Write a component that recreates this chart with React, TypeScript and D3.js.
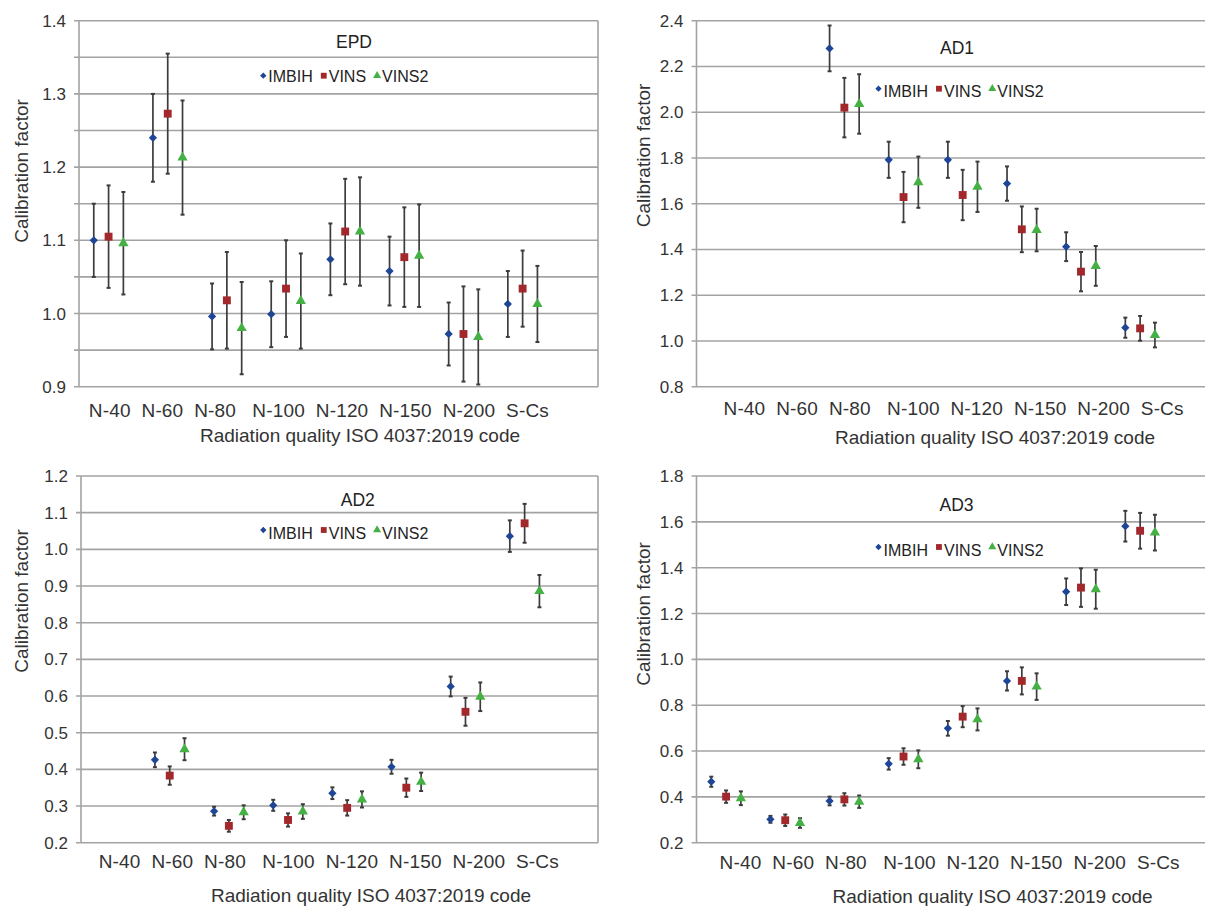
import React, { useEffect, useRef } from 'react';
import * as d3 from 'd3';

const categories = ['N-40', 'N-60', 'N-80', 'N-100', 'N-120', 'N-150', 'N-200', 'S-Cs'];
const seriesNames = ['IMBIH', 'VINS', 'VINS2'];

// EPD
const epdImbih = [1.100, 1.240, 0.996, 0.999, 1.074, 1.058, 0.972, 1.013];
const epdImbihErr = [0.050, 0.060, 0.045, 0.045, 0.049, 0.047, 0.043, 0.045];
const epdVins = [1.105, 1.273, 1.018, 1.034, 1.112, 1.077, 0.972, 1.034];
const epdVinsErr = [0.070, 0.082, 0.066, 0.066, 0.072, 0.068, 0.065, 0.052];
const epdVins2 = [1.096, 1.213, 0.980, 1.017, 1.112, 1.079, 0.968, 1.013];
const epdVins2Err = [0.070, 0.078, 0.063, 0.065, 0.074, 0.070, 0.065, 0.052];

// AD1
const ad1Imbih = [null, null, 2.279, 1.792, 1.792, 1.688, 1.412, 1.058];
const ad1ImbihErr = [null, null, 0.100, 0.079, 0.079, 0.075, 0.063, 0.044];
const ad1Vins = [null, null, 2.020, 1.629, 1.638, 1.488, 1.303, 1.055];
const ad1VinsErr = [null, null, 0.130, 0.110, 0.110, 0.100, 0.086, 0.054];
const ad1Vins2 = [null, null, 2.036, 1.694, 1.674, 1.485, 1.328, 1.026];
const ad1Vins2Err = [null, null, 0.130, 0.112, 0.110, 0.093, 0.087, 0.054];

// AD2
const ad2Imbih = [null, 0.426, 0.286, 0.302, 0.335, 0.407, 0.626, 1.036];
const ad2ImbihErr = [null, 0.020, 0.012, 0.015, 0.016, 0.019, 0.027, 0.043];
const ad2Vins = [null, 0.383, 0.246, 0.262, 0.295, 0.350, 0.557, 1.071];
const ad2VinsErr = [null, 0.025, 0.016, 0.018, 0.021, 0.025, 0.038, 0.053];
const ad2Vins2 = [null, 0.455, 0.283, 0.285, 0.318, 0.366, 0.598, 0.886];
const ad2Vins2Err = [null, 0.030, 0.019, 0.020, 0.022, 0.025, 0.039, 0.044];

// AD3
const ad3Imbih = [0.466, 0.302, 0.382, 0.544, 0.699, 0.906, 1.295, 1.581];
const ad3ImbihErr = [0.022, 0.015, 0.019, 0.025, 0.032, 0.042, 0.058, 0.067];
const ad3Vins = [0.401, 0.298, 0.389, 0.576, 0.750, 0.906, 1.313, 1.561];
const ad3VinsErr = [0.027, 0.025, 0.027, 0.036, 0.046, 0.059, 0.084, 0.078];
const ad3Vins2 = [0.394, 0.286, 0.379, 0.564, 0.738, 0.881, 1.306, 1.553];
const ad3Vins2Err = [0.030, 0.021, 0.027, 0.039, 0.048, 0.058, 0.085, 0.078];

const colors = ['#1f4596', '#a2282c', '#45b043'];
const symbols = [d3.symbolSquare, d3.symbolSquare, d3.symbolTriangle];
const rotations = [45, 0, 0];
const FONT = '"Liberation Sans", Arial, Helvetica, sans-serif';

const panels = [
    {
        name: 'EPD', domain: [0.9, 1.4], grid: 0.05, tick: 0.1,
        values: [[epdImbih, epdImbihErr], [epdVins, epdVinsErr], [epdVins2, epdVins2Err]],
        left: 79, right: 598, top: 20.7, bottom: 386.7,
        labelX: 88.8, labelY: 416.5, xTitleX: 360, xTitleY: 442, yTitleX: 28, yTitleY: 171,
        titleX: 354, titleY: 48.3, legendX: 263.3, legendY: 81.7, legendLift: 6
    },
    {
        name: 'AD1', domain: [0.8, 2.4], grid: 0.2, tick: 0.2,
        values: [[ad1Imbih, ad1ImbihErr], [ad1Vins, ad1VinsErr], [ad1Vins2, ad1Vins2Err]],
        left: 696.5, right: 1205, top: 20.7, bottom: 386.7,
        labelX: 723.5, labelY: 414.5, xTitleX: 995, xTitleY: 443.5, yTitleX: 649.5, yTitleY: 155.5,
        titleX: 957, titleY: 54, legendX: 878.5, legendY: 96.7, legendLift: 8
    },
    {
        name: 'AD2', domain: [0.2, 1.2], grid: 0.1, tick: 0.1,
        values: [[ad2Imbih, ad2ImbihErr], [ad2Vins, ad2VinsErr], [ad2Vins2, ad2Vins2Err]],
        left: 81, right: 598, top: 476, bottom: 842.7,
        labelX: 98.7, labelY: 868, xTitleX: 371, xTitleY: 902, yTitleX: 28, yTitleY: 601,
        titleX: 357.8, titleY: 506, legendX: 263.3, legendY: 539, legendLift: 9
    },
    {
        name: 'AD3', domain: [0.2, 1.8], grid: 0.2, tick: 0.2,
        values: [[ad3Imbih, ad3ImbihErr], [ad3Vins, ad3VinsErr], [ad3Vins2, ad3Vins2Err]],
        left: 696.5, right: 1205, top: 476, bottom: 842.7,
        labelX: 719.6, labelY: 869, xTitleX: 992.6, xTitleY: 903, yTitleX: 649.5, yTitleY: 614,
        titleX: 956.5, titleY: 510.7, legendX: 878.5, legendY: 556, legendLift: 9
    }
];

const BAND = 59.15;

export default function App() {
    const ref = useRef<SVGSVGElement>(null);

    useEffect(() => {
        const svg = d3.select(ref.current);
        svg.selectAll('*').remove();

        panels.forEach(p => {
            const g = svg.append('g');

            const x = d3.scaleBand()
                .domain(categories)
                .range([p.left, p.left + BAND * categories.length])
                .paddingInner(0);
            const off = d3.scalePoint()
                .domain(seriesNames)
                .range([-14.8, 14.8]);
            const y = d3.scaleLinear().domain(p.domain).range([p.bottom, p.top]);

            // gridlines
            const n = Math.round((p.domain[1] - p.domain[0]) / p.grid);
            const gridVals = d3.range(n + 1).map(i => +(p.domain[0] + i * p.grid).toFixed(3));
            g.selectAll('line.grid')
                .data(gridVals)
                .enter()
                .append('line')
                .attr('x1', p.left - 5)
                .attr('x2', p.right)
                .attr('y1', d => y(d))
                .attr('y2', d => y(d))
                .attr('stroke', '#a3a3a3')
                .attr('stroke-width', 1.6);

            // plot borders
            g.append('line')
                .attr('x1', p.left).attr('x2', p.left)
                .attr('y1', p.top).attr('y2', p.bottom)
                .attr('stroke', '#a3a3a3').attr('stroke-width', 1.6);
            if (p.right < 1205) {
                g.append('line')
                    .attr('x1', p.right).attr('x2', p.right)
                    .attr('y1', p.top).attr('y2', p.bottom)
                    .attr('stroke', '#a3a3a3').attr('stroke-width', 1.6);
            }

            // y tick labels
            const m = Math.round((p.domain[1] - p.domain[0]) / p.tick);
            const tickVals = d3.range(m + 1).map(i => +(p.domain[0] + i * p.tick).toFixed(3));
            g.selectAll('text.ytick')
                .data(tickVals)
                .enter()
                .append('text')
                .attr('x', p.left - 13)
                .attr('y', d => y(d) + 6)
                .attr('text-anchor', 'end')
                .attr('font-family', FONT)
                .attr('font-size', 17)
                .attr('fill', '#333')
                .text(d => d3.format('.1f')(d));

            // x labels (one text line, as in the source figure)
            const sep = '\u00A0\u00A0';
            const labelLine = categories.slice(0, 3).join(sep) + sep + '\u00A0' + categories.slice(3).join(sep);
            g.append('text')
                .attr('x', p.labelX)
                .attr('y', p.labelY)
                .attr('font-family', FONT)
                .attr('font-size', 19)
                .attr('fill', '#333')
                .attr('textLength', 460)
                .attr('lengthAdjust', 'spacing')
                .text(labelLine);

            // axis titles
            g.append('text')
                .attr('x', p.xTitleX)
                .attr('y', p.xTitleY)
                .attr('text-anchor', 'middle')
                .attr('font-family', FONT)
                .attr('font-size', 19)
                .attr('fill', '#333')
                .text('Radiation quality ISO 4037:2019 code');
            g.append('text')
                .attr('transform', `translate(${p.yTitleX},${p.yTitleY}) rotate(-90)`)
                .attr('text-anchor', 'middle')
                .attr('font-family', FONT)
                .attr('font-size', 19)
                .attr('fill', '#333')
                .text('Calibration factor');

            // panel title
            g.append('text')
                .attr('x', p.titleX)
                .attr('y', p.titleY)
                .attr('text-anchor', 'middle')
                .attr('font-family', FONT)
                .attr('font-size', 17.5)
                .attr('fill', '#222')
                .text(p.name);

            // error bars and markers
            seriesNames.forEach((s, si) => {
                const [vals, errs] = p.values[si];
                const pts = categories
                    .map((c, i) => ({ c, v: vals[i], e: errs[i] }))
                    .filter(d => d.v !== null);
                const cx = (d: any) => (x(d.c) as number) + x.bandwidth() / 2 + (off(s) as number);

                g.selectAll(`line.err${si}`)
                    .data(pts)
                    .enter()
                    .append('line')
                    .attr('x1', cx).attr('x2', cx)
                    .attr('y1', (d: any) => y(d.v + d.e))
                    .attr('y2', (d: any) => y(d.v - d.e))
                    .attr('stroke', '#3c3c3c')
                    .attr('stroke-width', 1.7);
                [1, -1].forEach(sign => {
                    g.selectAll(`line.cap${si}${sign}`)
                        .data(pts)
                        .enter()
                        .append('line')
                        .attr('x1', (d: any) => cx(d) - 2)
                        .attr('x2', (d: any) => cx(d) + 2)
                        .attr('y1', (d: any) => y(d.v + sign * d.e))
                        .attr('y2', (d: any) => y(d.v + sign * d.e))
                        .attr('stroke', '#3c3c3c')
                        .attr('stroke-width', 2);
                });

                const sizes = [34, 62, 46];
                g.selectAll(`path.pt${si}`)
                    .data(pts)
                    .enter()
                    .append('path')
                    .attr('d', d3.symbol().type(symbols[si]).size(sizes[si]))
                    .attr('transform', (d: any) => `translate(${cx(d)},${y(d.v)}) rotate(${rotations[si]})`)
                    .attr('fill', colors[si]);
            });

            // legend
            let lx = p.legendX;
            seriesNames.forEach((s, si) => {
                g.append('path')
                    .attr('d', d3.symbol().type(symbols[si]).size(si === 1 ? 34 : si === 0 ? 20 : 28))
                    .attr('transform', `translate(${lx},${p.legendY - p.legendLift}) rotate(${rotations[si]})`)
                    .attr('fill', colors[si]);
                const t = g.append('text')
                    .attr('x', lx + 5)
                    .attr('y', p.legendY)
                    .attr('font-family', FONT)
                    .attr('font-size', 16)
                    .attr('fill', '#222')
                    .text(s);
                const w = (t.node() as SVGTextElement).getComputedTextLength();
                lx = lx + 5 + w + 11;
            });
        });
    }, []);

    return (
        <svg ref={ref} width={1205} height={906}
            style={{ position: 'absolute', left: 0, top: 0, background: '#fff' }} />
    );
}
